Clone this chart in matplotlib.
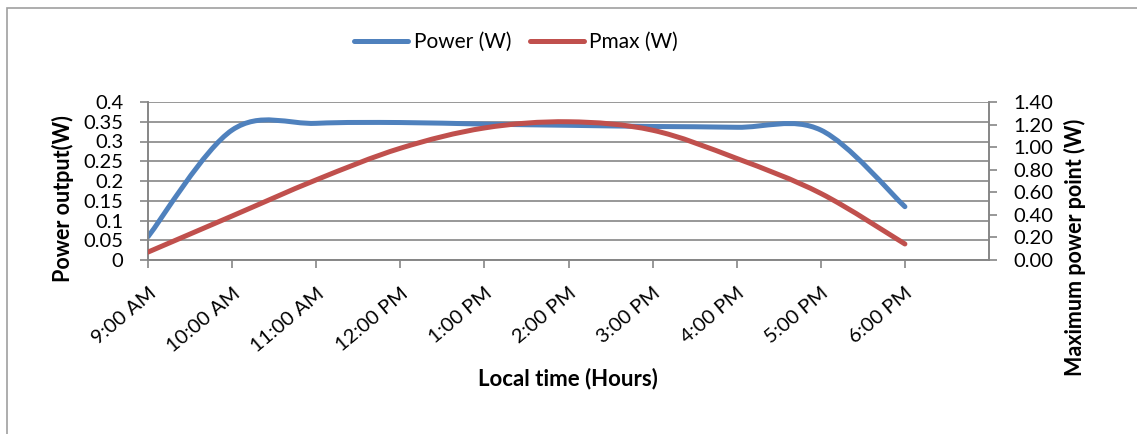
import matplotlib.pyplot as plt
from matplotlib.path import Path
from matplotlib.patches import PathPatch, Rectangle
from matplotlib.lines import Line2D

plt.rcParams['font.family'] = ['Lato', 'DejaVu Sans']

times = ['9:00 AM', '10:00 AM', '11:00 AM', '12:00 PM', '1:00 PM',
         '2:00 PM', '3:00 PM', '4:00 PM', '5:00 PM', '6:00 PM']
power = [0.059, 0.329, 0.346, 0.348, 0.344, 0.341, 0.338, 0.336, 0.329, 0.135]
pmax = [0.07, 0.39, 0.71, 0.99, 1.17, 1.225, 1.15, 0.90, 0.59, 0.142]

BLUE = '#4F81BD'
RED = '#C0504D'
GRAY = '#868686'


def smooth_path(ys):
    # Excel-style smoothed line: cubic bezier with neighbour based control points
    n = len(ys)
    xs = list(range(n))
    verts = [(xs[0], ys[0])]
    codes = [Path.MOVETO]
    for i in range(n - 1):
        x0, y0 = xs[max(i - 1, 0)], ys[max(i - 1, 0)]
        x1, y1 = xs[i], ys[i]
        x2, y2 = xs[i + 1], ys[i + 1]
        x3, y3 = xs[min(i + 2, n - 1)], ys[min(i + 2, n - 1)]
        c1 = (x1 + (x2 - x0) / 6, y1 + (y2 - y0) / 6)
        c2 = (x2 - (x3 - x1) / 6, y2 - (y3 - y1) / 6)
        verts += [c1, c2, (x2, y2)]
        codes += [Path.CURVE4] * 3
    return Path(verts, codes)


fig = plt.figure(figsize=(11.37, 4.34), dpi=100)
fig.patches.append(Rectangle((7 / 1137, -0.05), 1.2, (434 - 8) / 434 + 0.05,
                             transform=fig.transFigure, fill=False,
                             edgecolor='#A0A0A0', lw=1.2))

ax = fig.add_axes([148 / 1137, (434 - 260) / 434, (989 - 148) / 1137, 158 / 434])
ax2 = ax.twinx()

ax.add_patch(PathPatch(smooth_path(power), fill=False, edgecolor=BLUE,
                       lw=3.6, capstyle='round', zorder=3))
ax2.add_patch(PathPatch(smooth_path(pmax), fill=False, edgecolor=RED,
                        lw=3.6, capstyle='round', zorder=3))

ax.set_xlim(0, 10)
ax.set_ylim(0, 0.4)
ax2.set_ylim(0, 1.4)

ax.set_yticks([i * 0.05 for i in range(9)])
ax.set_yticklabels(['0', '0.05', '0.1', '0.15', '0.2', '0.25', '0.3', '0.35', '0.4'])
ax2.set_yticks([i * 0.2 for i in range(8)])
ax2.set_yticklabels(['%.2f' % (i * 0.2) for i in range(8)])
ax.set_xticks(range(len(times)))
ax.set_xticklabels(times, rotation=40, ha='right', va='top', rotation_mode='anchor',
                   fontsize=14.5)

ax.grid(axis='y', color=GRAY, lw=1.2)
ax.set_axisbelow(True)

for a in (ax, ax2):
    for s in a.spines.values():
        s.set_color(GRAY)
        s.set_linewidth(1.2)
    a.spines['top'].set_visible(False)
    a.tick_params(colors=GRAY, labelcolor='black', width=1.2, length=5.8)
ax.tick_params(axis='y', pad=12, labelsize=14.5)
ax.tick_params(axis='x', pad=12)
ax2.tick_params(axis='y', pad=12, labelsize=14.5)

ax.set_ylabel('Power output(W)', fontsize=15.5, fontweight='bold')
ax.yaxis.set_label_coords(-0.101, 0.392)
ax.yaxis.label.set_va('center')
ax2.set_ylabel('Maximum power point (W)', fontsize=15.5, fontweight='bold')
ax2.yaxis.set_label_coords(1.102, 0.082)
ax2.yaxis.label.set_va('center')
ax.set_xlabel('Local time (Hours)', fontsize=16, fontweight='bold')
ax.xaxis.set_label_coords(0.4994, -0.753)
ax.xaxis.label.set_va('center')

handles = [Line2D([], [], color=BLUE, lw=3.6, solid_capstyle='round'),
           Line2D([], [], color=RED, lw=3.6, solid_capstyle='round')]
fig.legend(handles, ['Power (W)', 'Pmax (W)'], loc='center', ncol=2,
           bbox_to_anchor=(516 / 1137, 1 - 42 / 434), frameon=False,
           fontsize=15, handlelength=2.6, handletextpad=0.25, columnspacing=0.9)

fig.savefig('out.png', dpi=100)
